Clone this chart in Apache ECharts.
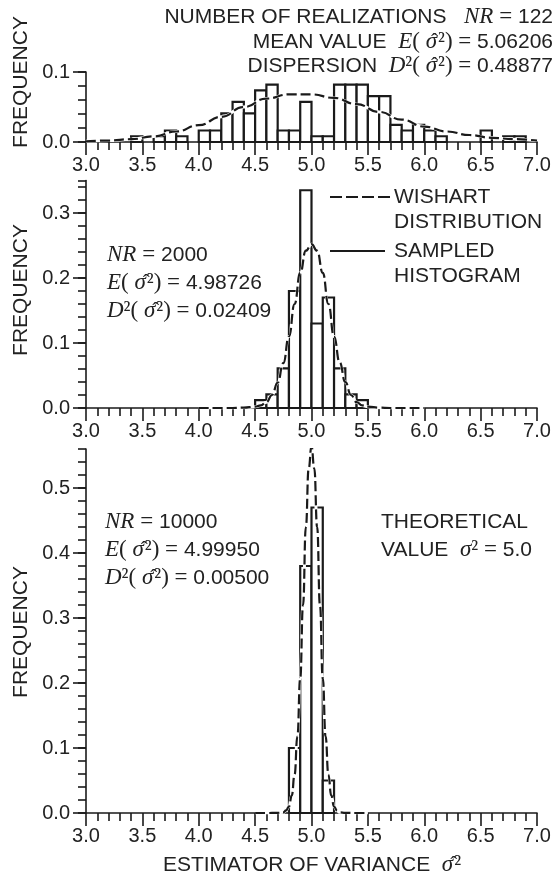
<!DOCTYPE html>
<html><head><meta charset="utf-8">
<script src="https://cdn.jsdelivr.net/npm/echarts@6/dist/echarts.min.js"></script>
<style>html,body{margin:0;padding:0;background:#fff}#c{width:555px;height:878px}</style>
</head><body><div id="c"></div>
<script>
// ---------------- DATA ----------------
const BIN_WIDTH = 0.1;

// Panel 1: NR = 122 (frequencies = counts / 122)
const topBinStarts = [3.4,3.6,3.7,3.8,4.0,4.1,4.2,4.3,4.4,4.5,4.6,4.7,4.8,4.9,5.0,5.1,5.2,5.3,5.4,5.5,5.6,5.7,5.8,5.9,6.0,6.1,6.5,6.7,6.8];
const topFreq      = [0.0082,0.0082,0.0164,0.0082,0.0164,0.0164,0.041,0.0574,0.041,0.0738,0.082,0.0164,0.0164,0.0574,0.0082,0.0082,0.082,0.082,0.082,0.0656,0.0656,0.0246,0.0164,0.0246,0.0164,0.0082,0.0164,0.0082,0.0082];
const topCurveX = [3.0,3.2,3.4,3.6,3.8,4.0,4.2,4.4,4.6,4.8,5.0,5.2,5.4,5.6,5.8,6.0,6.2,6.4,6.6,6.8,7.0];
const topCurveY = [0.001,0.002,0.004,0.008,0.015,0.024,0.036,0.050,0.062,0.068,0.068,0.063,0.054,0.043,0.032,0.022,0.015,0.010,0.006,0.004,0.002];
const topYMajor = [0, 0.1];

// Panel 2: NR = 2000
const midBinStarts = [4.5,4.6,4.7,4.8,4.9,5.0,5.1,5.2,5.3,5.4];
const midFreq      = [0.012,0.021,0.061,0.180,0.335,0.130,0.170,0.061,0.021,0.012];
const midCurveX = [4.0,4.3,4.4,4.5,4.55,4.6,4.65,4.7,4.75,4.8,4.85,4.9,4.95,5.0,5.05,5.1,5.15,5.2,5.25,5.3,5.35,5.4,5.45,5.5,5.6,5.7,6.0];
const midCurveY = [0,0,0.0005,0.002,0.004,0.009,0.020,0.039,0.069,0.110,0.160,0.208,0.242,0.252,0.242,0.208,0.160,0.110,0.070,0.040,0.020,0.009,0.004,0.002,0.0005,0,0];
const midYMajor = [0, 0.1, 0.2, 0.3];

// Panel 3: NR = 10000
const botBinStarts = [4.8,4.9,5.0,5.1];
const botFreq      = [0.10,0.38,0.47,0.05];
const botCurveX = [4.5,4.6,4.7,4.75,4.775,4.8,4.825,4.85,4.875,4.9,4.925,4.95,4.975,5.0,5.025,5.05,5.075,5.1,5.125,5.15,5.175,5.2,5.225,5.25,5.3,5.4,5.5];
const botCurveY = [0,0,0.0003,0.001,0.004,0.010,0.027,0.059,0.118,0.207,0.320,0.440,0.530,0.564,0.530,0.440,0.320,0.207,0.118,0.059,0.027,0.010,0.004,0.001,0.0003,0,0];
const botYMajor = [0, 0.1, 0.2, 0.3, 0.4, 0.5];

const panelYMax = [0.1, 0.35, 0.56];

// ---------------- CHART ----------------
const INK = '#1a1a1a';
const SANS = "'Liberation Sans', Arial, sans-serif";
const SERIF = "'Liberation Serif', 'DejaVu Serif', serif";
const chart = echarts.init(document.getElementById('c'), null, {renderer: 'canvas'});

const grids = [
  {left: 86, right: 18, top: 72, height: 70},
  {left: 86, right: 18, top: 180.5, height: 227.5},
  {left: 86, right: 18, top: 449, height: 364}
];

function xAxisFor(i) {
  return {
    type: 'value', gridIndex: i, min: 3, max: 7, interval: 0.5, position: 'bottom',
    axisLine: {show: true, onZero: false, lineStyle: {color: INK, width: 1.6}},
    axisTick: {show: true, inside: false, length: 13, lineStyle: {color: INK, width: 1.6}},
    minorTick: {show: true, splitNumber: 5, length: 8, lineStyle: {color: INK, width: 1.6}},
    axisLabel: {show: true, margin: 13, color: '#222', fontSize: 20, fontFamily: SANS,
      formatter: v => v.toFixed(1)},
    splitLine: {show: false}
  };
}
function yAxesFor(i, major) {
  return [
    { type: 'value', gridIndex: i, min: 0, max: panelYMax[i], interval: 0.02, position: 'left',
      axisLine: {show: true, onZero: false, lineStyle: {color: INK, width: 1.6}},
      axisTick: {show: true, inside: false, length: 8, lineStyle: {color: INK, width: 1.6}},
      axisLabel: {show: false}, splitLine: {show: false} },
    { type: 'value', gridIndex: i, min: 0, max: panelYMax[i], position: 'left',
      axisLine: {show: false},
      axisTick: {show: true, inside: false, length: 13, customValues: major, lineStyle: {color: INK, width: 1.6}},
      axisLabel: {show: true, customValues: major, margin: 16, color: '#222', fontSize: 20, fontFamily: SANS,
        formatter: v => v.toFixed(1)},
      splitLine: {show: false} }
  ];
}

function barSeries(i, starts, freqs) {
  return {
    type: 'custom', xAxisIndex: i, yAxisIndex: i * 2, z: 2,
    data: starts.map((s, k) => [s, freqs[k]]),
    renderItem: function (params, api) {
      const x0 = api.value(0), f = api.value(1);
      if (!f) return null;
      const p0 = api.coord([x0, 0]);
      const p1 = api.coord([x0 + BIN_WIDTH, f]);
      return {type: 'rect',
        shape: {x: p0[0], y: p1[1], width: p1[0] - p0[0], height: p0[1] - p1[1]},
        style: {fill: '#fff', stroke: INK, lineWidth: 2.2}};
    }
  };
}
function curveSeries(i, xs, ys) {
  const data = xs.map((x, k) => [x, ys[k]]);
  return [
    {type: 'line', xAxisIndex: i, yAxisIndex: i * 2, z: 3, data, smooth: true, smoothMonotone: 'x',
      symbol: 'none', silent: true, lineStyle: {color: '#fff', width: 3, type: 'solid'}},
    {type: 'line', xAxisIndex: i, yAxisIndex: i * 2, z: 4, data, smooth: true, smoothMonotone: 'x',
      symbol: 'none', silent: true, lineStyle: {color: INK, width: 2.2, type: [10, 4]}}
  ];
}

const baseStyle = {font: "21px " + SANS, fill: '#222'};
const rich = {
  i: {fontFamily: SERIF, fontStyle: 'italic', fontSize: 23, fill: '#222'},
  s: {fontFamily: SERIF, fontSize: 23, fill: '#222'},
  h: {fontFamily: SERIF, fontSize: 21, fill: '#222', width: 1, align: 'right'}
};
const SIG = '{i|σ}{h|ˆ}{s|²}';
function txt(x, y, text, align, rot) {
  return {type: 'text', x, y, rotation: rot || 0, z: 10,
    style: Object.assign({text, align: align || 'left', verticalAlign: 'middle', rich}, baseStyle)};
}

const graphics = [
  txt(553, 17, 'NUMBER OF REALIZATIONS   {i|NR} {s|=} 122', 'right'),
  txt(553, 42, 'MEAN VALUE  {i|E}{s|( }' + SIG + '{s|) =} 5.06206', 'right'),
  txt(553, 66, 'DISPERSION  {i|D}{s|²( }' + SIG + '{s|) =} 0.48877', 'right'),
  txt(107, 255, '{i|NR} {s|=} 2000'),
  txt(107, 283, '{i|E}{s|( }' + SIG + '{s|) =} 4.98726'),
  txt(107, 311, '{i|D}{s|²( }' + SIG + '{s|) =} 0.02409'),
  txt(105, 522, '{i|NR} {s|=} 10000'),
  txt(105, 550, '{i|E}{s|( }' + SIG + '{s|) =} 4.99950'),
  txt(105, 578, '{i|D}{s|²( }' + SIG + '{s|) =} 0.00500'),
  txt(381, 522, 'THEORETICAL'),
  txt(381, 550, 'VALUE  {i|σ}{s|² =} 5.0'),
  txt(394, 197, 'WISHART'),
  txt(394, 222, 'DISTRIBUTION'),
  txt(394, 251, 'SAMPLED'),
  txt(394, 276, 'HISTOGRAM'),
  txt(312, 865, 'ESTIMATOR OF VARIANCE  ' + SIG, 'center'),
  txt(21, 82, 'FREQUENCY', 'center', Math.PI / 2),
  txt(21, 290, 'FREQUENCY', 'center', Math.PI / 2),
  txt(21, 632, 'FREQUENCY', 'center', Math.PI / 2),
  {type: 'line', z: 10, shape: {x1: 330, y1: 197, x2: 391, y2: 197}, style: {stroke: INK, lineWidth: 2.2, lineDash: [12, 4]}},
  {type: 'line', z: 10, shape: {x1: 330, y1: 251, x2: 385, y2: 251}, style: {stroke: INK, lineWidth: 2.2}}
];

const option = {
  animation: false,
  backgroundColor: '#fff',
  grid: grids,
  xAxis: [xAxisFor(0), xAxisFor(1), xAxisFor(2)],
  yAxis: [].concat(yAxesFor(0, topYMajor), yAxesFor(1, midYMajor), yAxesFor(2, botYMajor)),
  series: [].concat(
    [barSeries(0, topBinStarts, topFreq)], curveSeries(0, topCurveX, topCurveY),
    [barSeries(1, midBinStarts, midFreq)], curveSeries(1, midCurveX, midCurveY),
    [barSeries(2, botBinStarts, botFreq)], curveSeries(2, botCurveX, botCurveY)
  ),
  graphic: graphics
};
chart.setOption(option);
</script></body></html>
